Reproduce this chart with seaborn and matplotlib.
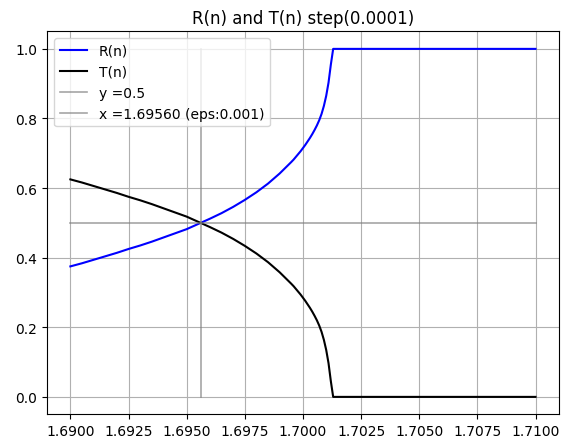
import matplotlib
matplotlib.use("Agg")
import matplotlib.pyplot as plt
import matplotlib.ticker as mticker
import seaborn as sns
import pandas as pd

n_values = [1.6900, 1.6905, 1.6910, 1.6915, 1.6920, 1.6925, 1.6930, 1.6935,
            1.6940, 1.6945, 1.6950, 1.6956, 1.6960, 1.6965, 1.6970, 1.6975,
            1.6980, 1.6985, 1.6990, 1.6995, 1.6996, 1.6997, 1.6998, 1.6999,
            1.7000, 1.7001, 1.7002, 1.7003, 1.7004, 1.7005, 1.7006, 1.7007,
            1.7008, 1.7009, 1.7010, 1.7011, 1.7012, 1.7013, 1.7014, 1.7100]
r_values = [0.375, 0.384, 0.394, 0.404, 0.414, 0.425, 0.435, 0.446,
            0.458, 0.470, 0.482, 0.500, 0.512, 0.528, 0.546, 0.566,
            0.588, 0.613, 0.642, 0.675, 0.682, 0.690, 0.698, 0.706,
            0.715, 0.724, 0.734, 0.744, 0.755, 0.767, 0.780, 0.795,
            0.813, 0.836, 0.865, 0.903, 0.955, 1.000, 1.000, 1.000]
t_values = [0.625, 0.616, 0.606, 0.596, 0.586, 0.575, 0.565, 0.554,
            0.542, 0.530, 0.518, 0.500, 0.488, 0.472, 0.454, 0.434,
            0.412, 0.387, 0.358, 0.325, 0.318, 0.310, 0.302, 0.294,
            0.285, 0.276, 0.266, 0.256, 0.245, 0.233, 0.220, 0.205,
            0.187, 0.164, 0.135, 0.097, 0.045, 0.000, 0.000, 0.000]
half_x = [1.6900, 1.7100]
half_y = [0.5, 0.5]
cross_x = [1.6956, 1.6956]
cross_y = [0.0, 1.0]

labels = ["R(n)", "T(n)", "y =0.5", "x =1.69560 (eps:0.001)"]
title = "R(n) and T(n) step(0.0001)"

df = pd.DataFrame({"n": n_values, "R": r_values, "T": t_values})

fig = plt.figure(figsize=(5.61, 4.39), dpi=100)
ax = fig.add_axes([0.084, 0.054, 0.912, 0.872])

sns.lineplot(data=df, x="n", y="R", ax=ax, color="blue", linewidth=1.5,
             label=labels[0], estimator=None, sort=False)
sns.lineplot(data=df, x="n", y="T", ax=ax, color="black", linewidth=1.5,
             label=labels[1], estimator=None, sort=False)
sns.lineplot(x=half_x, y=half_y, ax=ax, color="gray", alpha=0.7, linewidth=1.2,
             label=labels[2], estimator=None, sort=False)
sns.lineplot(x=cross_x, y=cross_y, ax=ax, color="gray", alpha=0.7, linewidth=1.2,
             label=labels[3], estimator=None, sort=False)

ax.set_xlim(1.689, 1.711)
ax.set_ylim(-0.05, 1.05)
ax.xaxis.set_major_locator(mticker.MultipleLocator(0.0025))
ax.xaxis.set_major_formatter(mticker.FormatStrFormatter("%.4f"))
ax.yaxis.set_major_locator(mticker.MultipleLocator(0.2))
ax.yaxis.set_major_formatter(mticker.FormatStrFormatter("%.1f"))
ax.set_xlabel("")
ax.set_ylabel("")
ax.grid(True, color="#b0b0b0", linewidth=0.8)
ax.set_title(title, fontsize=12)
ax.legend(loc="upper left", fontsize=10)

fig.savefig("out.png", dpi=100)
